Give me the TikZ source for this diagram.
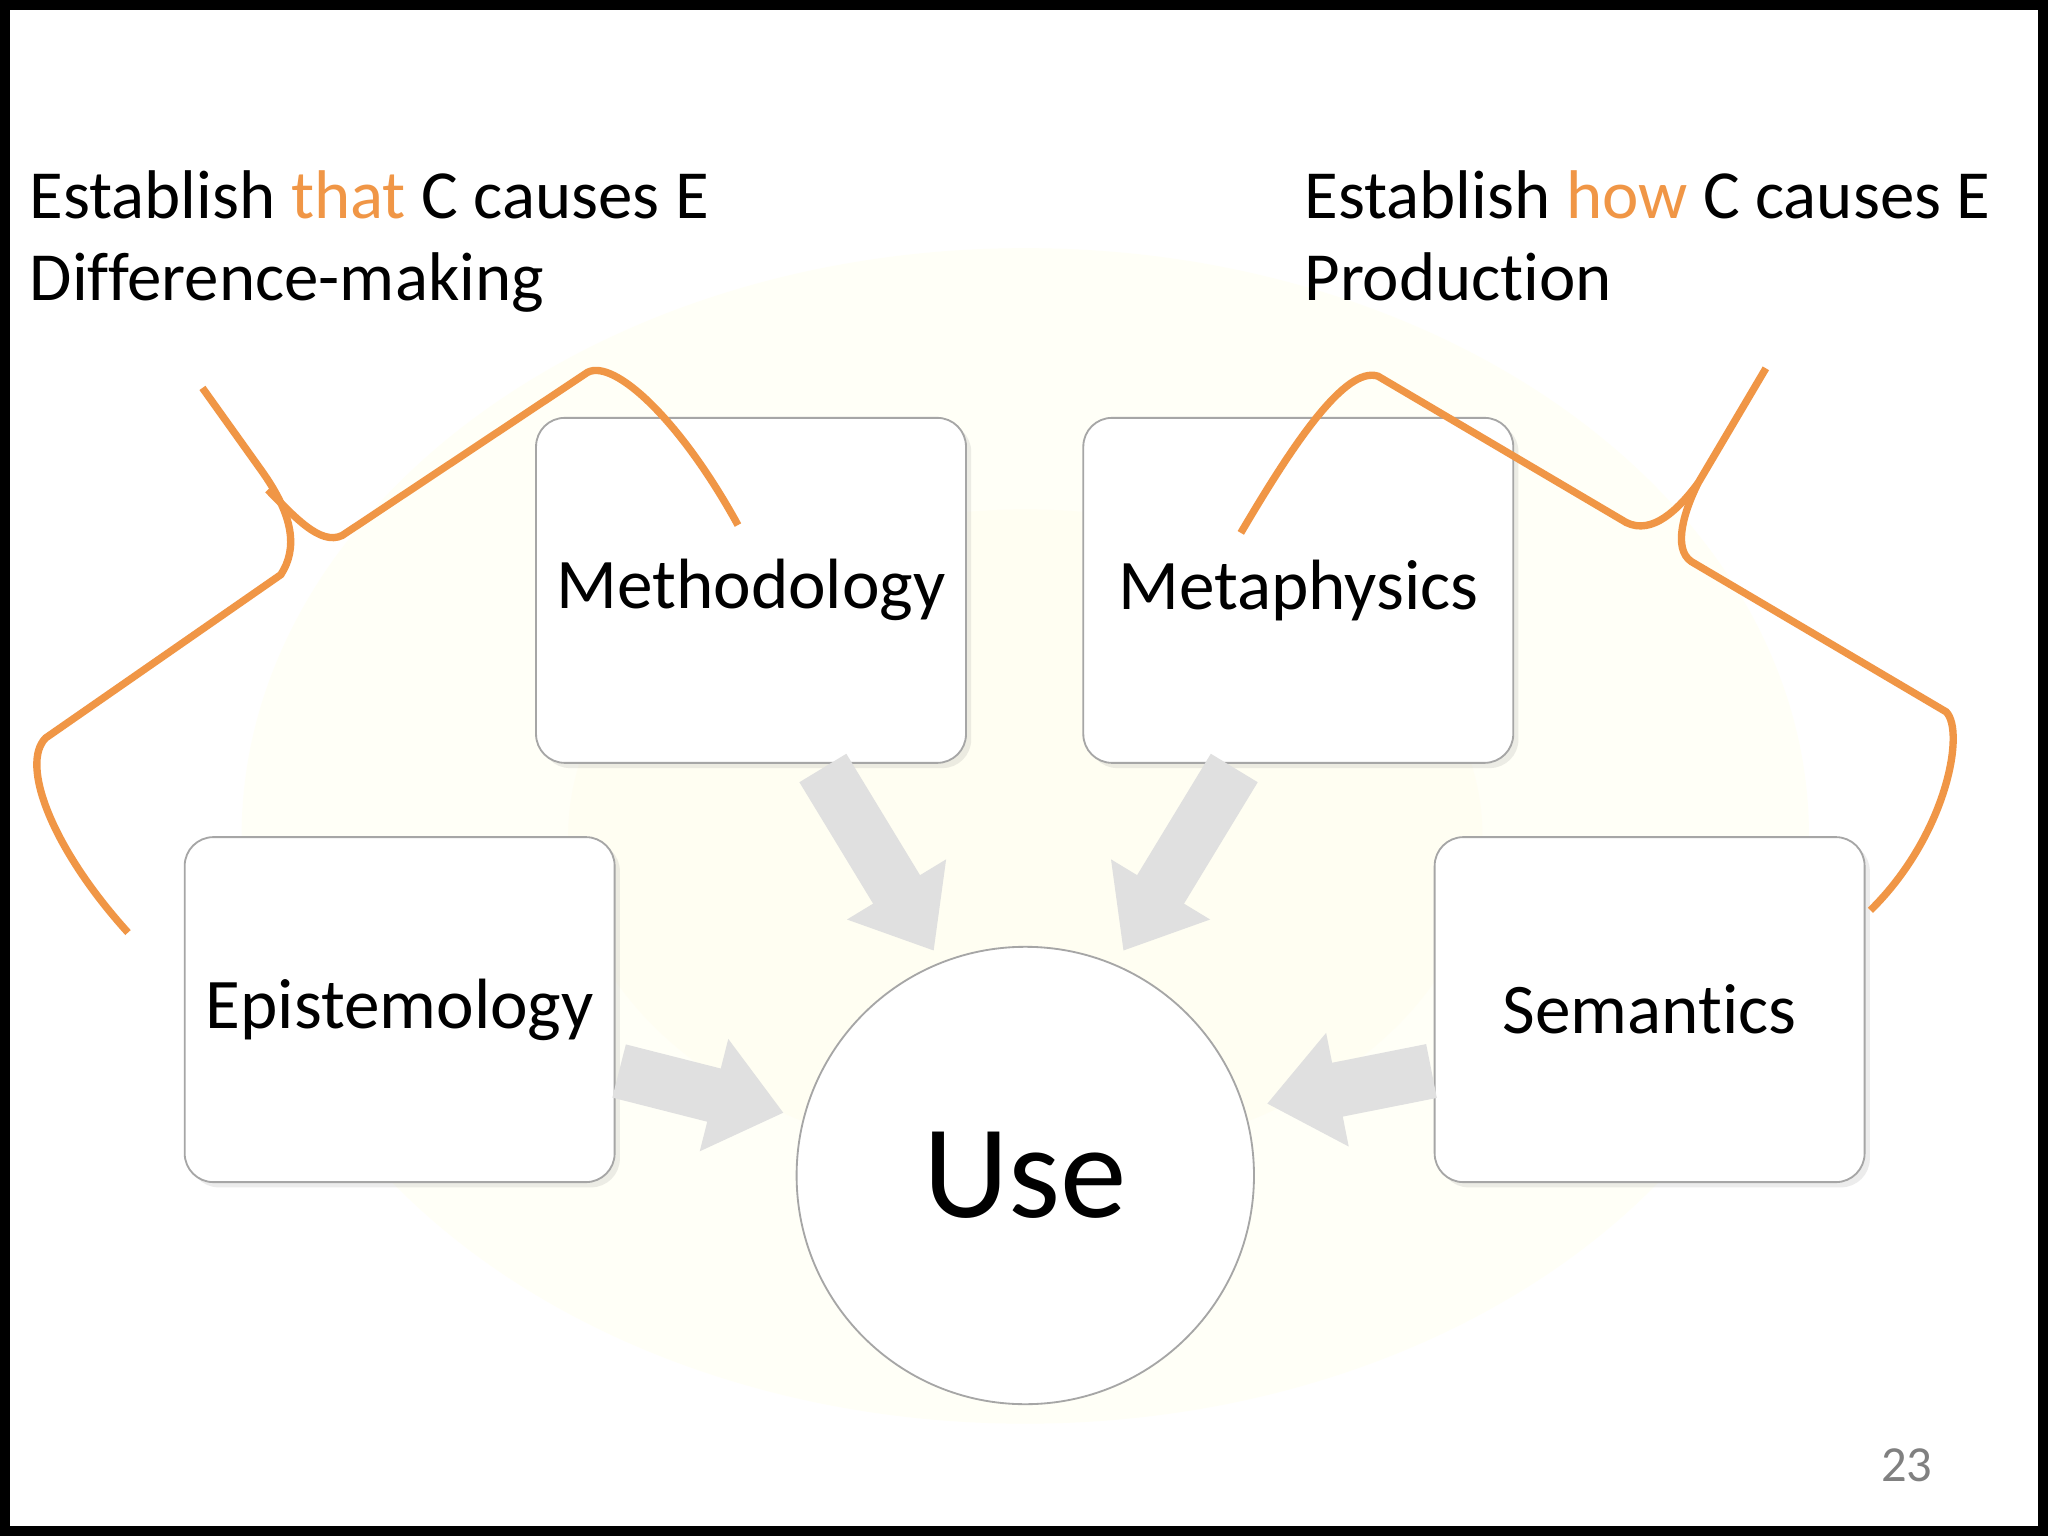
\documentclass[tikz,border=0pt]{standalone}
\usepackage{fontspec}
\setmainfont{Carlito}[RawFeature=-liga]
\usetikzlibrary{arrows.meta,shadows}
\definecolor{brace}{RGB}{240,150,70}
\definecolor{flow}{RGB}{224,224,224}
\begin{document}
\begin{tikzpicture}[x=0.01cm,y=-0.01cm,
  box/.style={draw=gray!70,fill=white,rounded corners=0.22cm,inner sep=0pt,minimum width=3.29cm,minimum height=2.64cm,font=\fontsize{15.5}{19}\selectfont,drop shadow={opacity=0.15,shadow xshift=0.04cm,shadow yshift=-0.04cm}},
  flowarrow/.style={draw=flow,line width=0.42cm,-{Triangle[length=0.55cm,width=0.85cm]}},
  bracelin/.style={draw=brace,line width=1.6pt},
  head/.style={anchor=base west,inner sep=0pt,font=\fontsize{15}{18}\selectfont}]
\useasboundingbox (0,0) rectangle (1568,1176);
\fill[black] (0,0) rectangle (1568,1176);
\fill[white] (8,8) rectangle (1560,1168);
\fill[yellow!3] (785,640) ellipse (600 and 450);
\fill[yellow!5!white] (785,640) ellipse (350 and 250);
% headings
\node[head] (h1) at (22,167) {Establish \textcolor{brace}{that} C causes E};
\node[head] (h2) at (22,230) {Difference-making};
\node[head] (h3) at (998,167) {Establish \textcolor{brace}{how} C causes E};
\node[head] (h4) at (998,230) {Production};
% boxes
\node[box] (meth) at (575,452) {Methodology};
\node[box] (meta) at (994,452) {Metaphysics};
\node[box] (epi) at (306,773) {Epistemology};
\node[box] (sem) at (1263,773) {Semantics};
\node[draw=gray!70,fill=white,circle,minimum size=3.5cm,font=\fontsize{29}{34}\selectfont] (use) at (785,900) {Use};
% arrows
\coordinate (m1) at (630,588); \coordinate (m2) at (715,728);
\coordinate (t1) at (945,588); \coordinate (t2) at (860,728);
\coordinate (e1) at (474,820); \coordinate (e2) at (600,852);
\coordinate (s1) at (1096,820); \coordinate (s2) at (970,845);
\draw[flowarrow] (m1) -- (m2);
\draw[flowarrow] (t1) -- (t2);
\draw[flowarrow] (e1) -- (e2);
\draw[flowarrow] (s1) -- (s2);
% braces
\draw[bracelin] (155,297) -- (200,360) .. controls (225,395) and (228,420) .. (215,440) -- (35,565) .. controls (15,585) and (40,650) .. (98,714);
\draw[bracelin] (205,375) .. controls (225,395) and (245,418) .. (262,410) -- (450,285) .. controls (470,275) and (520,320) .. (565,402);
\draw[bracelin] (950,408) .. controls (990,340) and (1030,280) .. (1055,288) -- (1245,400) .. controls (1265,410) and (1285,390) .. (1300,370) -- (1352,282);
\draw[bracelin] (1300,370) .. controls (1290,390) and (1280,420) .. (1295,430) -- (1490,545) .. controls (1505,560) and (1490,640) .. (1432,697);
\node[text=gray,font=\fontsize{11}{13}\selectfont] (pg) at (1460,1122) {23};
\end{tikzpicture}
\end{document}
